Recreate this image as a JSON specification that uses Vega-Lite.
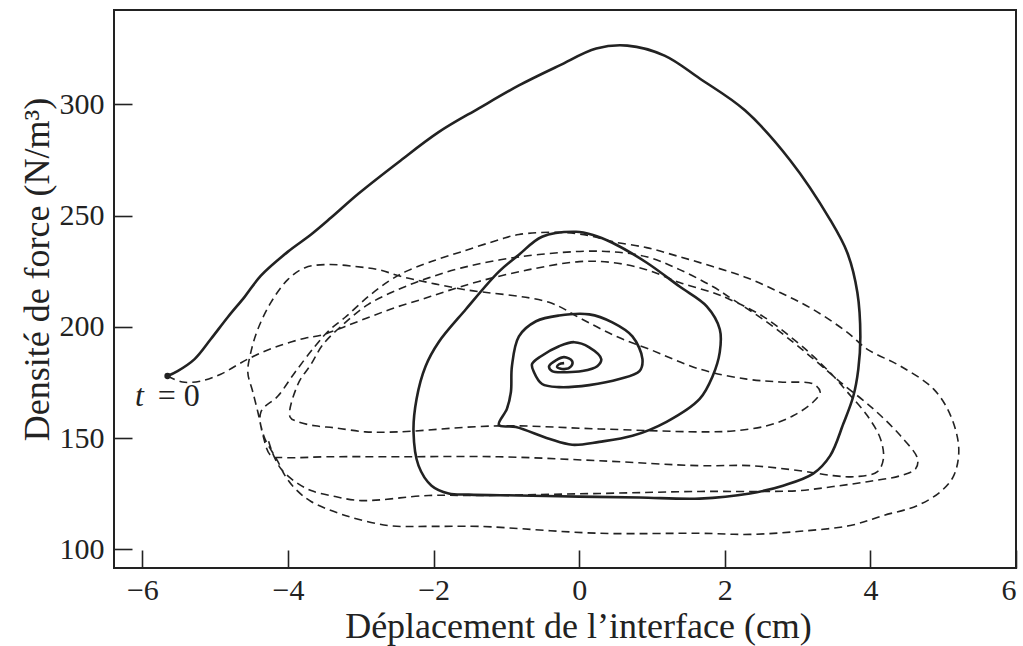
{
  "$schema": "https://vega.github.io/schema/vega-lite/v6.json",
  "width": 902,
  "height": 558,
  "autosize": {"type": "none"},
  "padding": {"left": 114, "top": 10, "right": 7, "bottom": 78},
  "background": "white",
  "config": {
    "view": {"stroke": "#222", "strokeWidth": 2},
    "font": "Liberation Serif",
    "axis": {
      "grid": false,
      "domain": false,
      "tickColor": "#222",
      "tickWidth": 1.6,
      "tickSize": -18,
      "labelColor": "#222",
      "labelFont": "Liberation Serif",
      "labelFontSize": 30,
      "titleColor": "#222",
      "titleFont": "Liberation Serif",
      "titleFontSize": 36,
      "titleFontWeight": "normal"
    }
  },
  "datasets": {
    "solid": [
      {"i":0,"x":-5.655,"y":177.9},{"i":1,"x":-5.517,"y":180.1},{"i":2,"x":-5.283,"y":185.5},{"i":3,"x":-5.062,"y":194.4},
      {"i":4,"x":-4.828,"y":204.3},{"i":5,"x":-4.593,"y":213.6},{"i":6,"x":-4.372,"y":223.0},{"i":7,"x":-4.0,"y":233.8},
      {"i":8,"x":-3.683,"y":241.5},{"i":9,"x":-3.407,"y":249.1},{"i":10,"x":-3.034,"y":259.8},{"i":11,"x":-2.483,"y":274.0},
      {"i":12,"x":-1.931,"y":287.5},{"i":13,"x":-1.379,"y":298.2},{"i":14,"x":-0.828,"y":308.5},{"i":15,"x":-0.276,"y":317.4},
      {"i":16,"x":0.234,"y":325.1},{"i":17,"x":0.662,"y":326.4},{"i":18,"x":1.172,"y":321.9},{"i":19,"x":1.655,"y":311.6},
      {"i":20,"x":2.276,"y":297.3},{"i":21,"x":2.897,"y":274.9},{"i":22,"x":3.448,"y":248.1},{"i":23,"x":3.683,"y":233.3},
      {"i":24,"x":3.821,"y":215.4},{"i":25,"x":3.862,"y":195.7},{"i":26,"x":3.834,"y":181.0},{"i":27,"x":3.766,"y":168.9},
      {"i":28,"x":3.628,"y":156.4},{"i":29,"x":3.448,"y":142.1},{"i":30,"x":3.214,"y":134.0},{"i":31,"x":2.8,"y":128.6},
      {"i":32,"x":2.345,"y":125.1},{"i":33,"x":1.655,"y":122.8},{"i":34,"x":0.828,"y":123.3},{"i":35,"x":0.0,"y":123.7},
      {"i":36,"x":-0.828,"y":124.2},{"i":37,"x":-1.517,"y":124.6},{"i":38,"x":-1.793,"y":125.1},{"i":39,"x":-2.028,"y":128.6},
      {"i":40,"x":-2.207,"y":137.6},{"i":41,"x":-2.276,"y":152.8},{"i":42,"x":-2.234,"y":167.6},{"i":43,"x":-2.11,"y":182.3},
      {"i":44,"x":-1.931,"y":193.1},{"i":45,"x":-1.559,"y":207.8},{"i":46,"x":-1.103,"y":224.8},{"i":47,"x":-0.828,"y":232.4},
      {"i":48,"x":-0.51,"y":240.5},{"i":49,"x":-0.041,"y":242.7},{"i":50,"x":0.179,"y":241.4},{"i":51,"x":0.455,"y":237.8},
      {"i":52,"x":0.924,"y":228.9},{"i":53,"x":1.379,"y":218.1},{"i":54,"x":1.752,"y":209.2},{"i":55,"x":1.931,"y":198.9},
      {"i":56,"x":1.931,"y":188.6},{"i":57,"x":1.834,"y":177.9},{"i":58,"x":1.655,"y":167.6},{"i":59,"x":1.2,"y":157.3},
      {"i":60,"x":0.731,"y":151.0},{"i":61,"x":0.276,"y":148.3},{"i":62,"x":-0.097,"y":147.0},{"i":63,"x":-0.414,"y":149.7},
      {"i":64,"x":-0.869,"y":155.0},{"i":65,"x":-1.103,"y":155.9},{"i":66,"x":-0.993,"y":163.1},{"i":67,"x":-0.938,"y":170.7},
      {"i":68,"x":-0.924,"y":182.3},{"i":69,"x":-0.828,"y":195.7},{"i":70,"x":-0.593,"y":202.5},{"i":71,"x":-0.276,"y":205.1},
      {"i":72,"x":0.138,"y":205.6},{"i":73,"x":0.455,"y":202.0},{"i":74,"x":0.731,"y":195.7},{"i":75,"x":0.869,"y":185.5},
      {"i":76,"x":0.828,"y":180.1},{"i":77,"x":0.552,"y":176.5},{"i":78,"x":0.138,"y":173.8},{"i":79,"x":-0.276,"y":172.9},
      {"i":80,"x":-0.51,"y":174.3},{"i":81,"x":-0.621,"y":179.6},{"i":82,"x":-0.648,"y":183.2},{"i":83,"x":-0.524,"y":186.8},
      {"i":84,"x":-0.276,"y":191.3},{"i":85,"x":-0.069,"y":193.1},{"i":86,"x":0.138,"y":190.8},{"i":87,"x":0.303,"y":185.5},
      {"i":88,"x":0.248,"y":182.3},{"i":89,"x":0.041,"y":180.1},{"i":90,"x":-0.179,"y":179.6},{"i":91,"x":-0.372,"y":180.1},
      {"i":92,"x":-0.414,"y":182.3},{"i":93,"x":-0.317,"y":185.0},{"i":94,"x":-0.207,"y":186.4},{"i":95,"x":-0.097,"y":184.6},
      {"i":96,"x":-0.11,"y":182.3},{"i":97,"x":-0.207,"y":181.0},{"i":98,"x":-0.303,"y":181.9},{"i":99,"x":-0.276,"y":183.2},
      {"i":100,"x":-0.207,"y":183.7}
    ],
    "dashed": [
      {"i":0,"x":-5.655,"y":177.9},{"i":1,"x":-5.448,"y":175.2},{"i":2,"x":-5.2,"y":175.6},{"i":3,"x":-4.924,"y":178.7},
      {"i":4,"x":-4.552,"y":185.5},{"i":5,"x":-4.179,"y":190.8},{"i":6,"x":-3.766,"y":194.9},{"i":7,"x":-3.545,"y":196.2},
      {"i":8,"x":-3.214,"y":200.2},{"i":9,"x":-2.855,"y":204.7},{"i":10,"x":-2.524,"y":208.7},{"i":11,"x":-2.166,"y":212.3},
      {"i":12,"x":-1.834,"y":215.9},{"i":13,"x":-1.379,"y":220.4},{"i":14,"x":-0.69,"y":225.7},{"i":15,"x":0.0,"y":229.3},
      {"i":16,"x":0.455,"y":228.9},{"i":17,"x":0.924,"y":225.7},{"i":18,"x":1.379,"y":219.9},{"i":19,"x":1.834,"y":215.4},
      {"i":20,"x":2.069,"y":212.3},{"i":21,"x":2.524,"y":204.7},{"i":22,"x":2.993,"y":193.1},{"i":23,"x":3.214,"y":186.8},
      {"i":24,"x":3.49,"y":177.9},{"i":25,"x":3.683,"y":170.7},{"i":26,"x":3.959,"y":160.0},{"i":27,"x":4.138,"y":149.7},
      {"i":28,"x":4.179,"y":140.7},{"i":29,"x":4.097,"y":134.9},{"i":30,"x":3.821,"y":132.7},{"i":31,"x":3.49,"y":133.1},
      {"i":32,"x":3.034,"y":135.3},{"i":33,"x":2.345,"y":137.6},{"i":34,"x":1.655,"y":137.6},{"i":35,"x":0.276,"y":139.8},
      {"i":36,"x":-1.103,"y":141.6},{"i":37,"x":-2.483,"y":141.6},{"i":38,"x":-3.448,"y":141.6},{"i":39,"x":-4.041,"y":141.2},
      {"i":40,"x":-4.234,"y":142.1},{"i":41,"x":-4.331,"y":149.7},{"i":42,"x":-4.372,"y":161.7},{"i":43,"x":-4.138,"y":168.9},
      {"i":44,"x":-3.903,"y":179.6},{"i":45,"x":-3.628,"y":191.3},{"i":46,"x":-3.448,"y":198.0},{"i":47,"x":-3.214,"y":204.3},
      {"i":48,"x":-2.897,"y":213.6},{"i":49,"x":-2.621,"y":220.4},{"i":50,"x":-2.386,"y":224.8},{"i":51,"x":-2.069,"y":228.9},
      {"i":52,"x":-1.614,"y":233.8},{"i":53,"x":-1.103,"y":239.1},{"i":54,"x":-0.828,"y":241.5},{"i":55,"x":-0.276,"y":242.5},
      {"i":56,"x":0.138,"y":241.0},{"i":57,"x":0.455,"y":238.3},{"i":58,"x":0.924,"y":235.6},{"i":59,"x":1.379,"y":231.5},
      {"i":60,"x":1.834,"y":227.1},{"i":61,"x":2.303,"y":222.1},{"i":62,"x":2.759,"y":215.4},{"i":63,"x":3.214,"y":207.8},
      {"i":64,"x":3.683,"y":197.5},{"i":65,"x":3.959,"y":189.9},{"i":66,"x":4.414,"y":182.3},{"i":67,"x":4.869,"y":172.0},
      {"i":68,"x":5.103,"y":160.0},{"i":69,"x":5.214,"y":145.2},{"i":70,"x":5.145,"y":133.1},{"i":71,"x":4.966,"y":126.0},
      {"i":72,"x":4.648,"y":119.7},{"i":73,"x":4.179,"y":115.2},{"i":74,"x":3.724,"y":110.7},{"i":75,"x":3.034,"y":108.1},
      {"i":76,"x":2.345,"y":106.7},{"i":77,"x":1.655,"y":107.2},{"i":78,"x":0.276,"y":107.2},{"i":79,"x":-1.379,"y":110.3},
      {"i":80,"x":-2.069,"y":110.3},{"i":81,"x":-2.621,"y":110.7},{"i":82,"x":-3.214,"y":115.2},{"i":83,"x":-3.683,"y":121.5},
      {"i":84,"x":-3.903,"y":127.3},{"i":85,"x":-4.041,"y":133.1},{"i":86,"x":-4.138,"y":139.4},{"i":87,"x":-4.317,"y":149.7},
      {"i":88,"x":-4.372,"y":155.5},{"i":89,"x":-4.414,"y":161.7},{"i":90,"x":-4.483,"y":170.7},{"i":91,"x":-4.552,"y":179.6},
      {"i":92,"x":-4.51,"y":188.6},{"i":93,"x":-4.414,"y":198.9},{"i":94,"x":-4.234,"y":211.0},{"i":95,"x":-4.0,"y":221.3},
      {"i":96,"x":-3.766,"y":226.6},{"i":97,"x":-3.448,"y":228.0},{"i":98,"x":-3.076,"y":227.1},{"i":99,"x":-2.759,"y":225.7},
      {"i":100,"x":-2.441,"y":222.6},{"i":101,"x":-2.069,"y":219.9},{"i":102,"x":-1.586,"y":216.8},{"i":103,"x":-0.414,"y":211.0},
      {"i":104,"x":0.041,"y":203.4},{"i":105,"x":0.51,"y":195.7},{"i":106,"x":0.966,"y":189.9},{"i":107,"x":1.655,"y":181.0},
      {"i":108,"x":2.303,"y":176.5},{"i":109,"x":2.759,"y":175.2},{"i":110,"x":3.214,"y":174.3},{"i":111,"x":3.31,"y":170.7},
      {"i":112,"x":3.214,"y":166.2},{"i":113,"x":2.938,"y":160.0},{"i":114,"x":2.579,"y":155.5},{"i":115,"x":2.11,"y":153.2},
      {"i":116,"x":1.655,"y":152.8},{"i":117,"x":0.276,"y":154.1},{"i":118,"x":-1.103,"y":155.5},{"i":119,"x":-2.483,"y":152.8},
      {"i":120,"x":-2.938,"y":152.8},{"i":121,"x":-3.352,"y":154.6},{"i":122,"x":-3.628,"y":155.5},{"i":123,"x":-3.862,"y":157.3},
      {"i":124,"x":-3.972,"y":159.5},{"i":125,"x":-3.862,"y":174.3},{"i":126,"x":-3.683,"y":183.2},{"i":127,"x":-3.517,"y":192.2},
      {"i":128,"x":-3.241,"y":201.1},{"i":129,"x":-2.897,"y":210.1},{"i":130,"x":-2.483,"y":216.8},{"i":131,"x":-2.069,"y":222.0},
      {"i":132,"x":-1.614,"y":226.5},{"i":133,"x":-1.103,"y":230.0},{"i":134,"x":-0.552,"y":232.5},{"i":135,"x":0.276,"y":234.0},
      {"i":136,"x":0.924,"y":231.5},{"i":137,"x":1.379,"y":225.7},{"i":138,"x":1.834,"y":218.1},{"i":139,"x":2.11,"y":212.3},
      {"i":140,"x":2.524,"y":203.4},{"i":141,"x":2.938,"y":193.1},{"i":142,"x":3.269,"y":184.1},{"i":143,"x":3.586,"y":175.2},
      {"i":144,"x":4.041,"y":163.1},{"i":145,"x":4.414,"y":151.0},{"i":146,"x":4.648,"y":140.7},{"i":147,"x":4.621,"y":136.2},
      {"i":148,"x":4.414,"y":133.1},{"i":149,"x":3.959,"y":130.4},{"i":150,"x":3.49,"y":128.2},{"i":151,"x":3.034,"y":126.4},
      {"i":152,"x":2.579,"y":126.0},{"i":153,"x":1.655,"y":126.0},{"i":154,"x":0.276,"y":125.1},{"i":155,"x":-1.379,"y":124.2},
      {"i":156,"x":-2.069,"y":124.2},{"i":157,"x":-2.993,"y":121.9},{"i":158,"x":-3.352,"y":123.7},{"i":159,"x":-3.683,"y":126.4},
      {"i":160,"x":-3.903,"y":130.4},{"i":161,"x":-4.097,"y":136.2},{"i":162,"x":-4.207,"y":142.9},{"i":163,"x":-4.276,"y":149.7}
    ]
  },
  "encoding": {
    "x": {
      "field": "x", "type": "quantitative",
      "scale": {"domain": [-6.39, 6.0], "nice": false, "zero": false},
      "axis": {
        "values": [-6, -4, -2, 0, 2, 4, 6],
        "title": "Déplacement de l’interface (cm)",
        "labelPadding": 25,
        "titleX": 464, "titleY": 69, "titleBaseline": "alphabetic"
      }
    },
    "y": {
      "field": "y", "type": "quantitative",
      "scale": {"domain": [91.6, 342.4], "nice": false, "zero": false},
      "axis": {
        "values": [100, 150, 200, 250, 300],
        "title": "Densité de force (N/m³)",
        "labelPadding": 28,
        "titleX": -66, "titleY": 259, "titleAngle": -90,
        "titleAlign": "center", "titleBaseline": "alphabetic"
      }
    }
  },
  "layer": [
    {
      "data": {"name": "dashed"},
      "mark": {"type": "line", "color": "#222", "strokeWidth": 1.6, "strokeDash": [8, 5], "interpolate": "catmull-rom"},
      "encoding": {"order": {"field": "i", "type": "quantitative"}}
    },
    {
      "data": {"name": "solid"},
      "mark": {"type": "line", "color": "#222", "strokeWidth": 2.6, "interpolate": "catmull-rom"},
      "encoding": {"order": {"field": "i", "type": "quantitative"}}
    },
    {
      "data": {"values": [{"x": -5.655, "y": 177.9}]},
      "mark": {"type": "point", "filled": true, "color": "#222", "size": 40, "opacity": 1}
    },
    {
      "data": {"values": [{"x": -6.04, "y": 168.9, "label": "t"}]},
      "mark": {"type": "text", "font": "Liberation Serif", "fontStyle": "italic", "fontSize": 32, "color": "#222", "baseline": "middle", "align": "center"},
      "encoding": {"text": {"field": "label"}}
    },
    {
      "data": {"values": [{"x": -5.5, "y": 168.9, "label": "= 0"}]},
      "mark": {"type": "text", "font": "Liberation Serif", "fontSize": 32, "color": "#222", "baseline": "middle", "align": "center"},
      "encoding": {"text": {"field": "label"}}
    }
  ]
}
